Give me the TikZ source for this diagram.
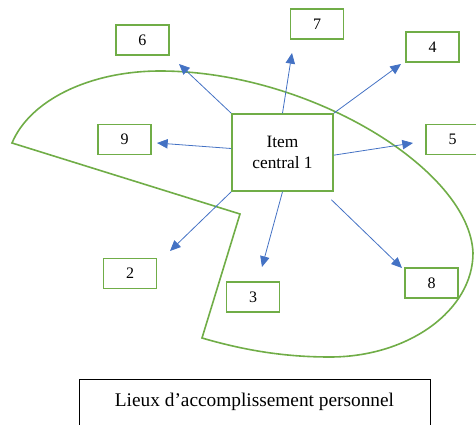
\documentclass[tikz,border=0pt]{standalone}
\usepackage{fontspec}
\setmainfont{Liberation Serif}
\usetikzlibrary{arrows.meta}
\definecolor{vert}{HTML}{70AD47}
\definecolor{bleu}{HTML}{4472C4}

\begin{document}
\begin{tikzpicture}[x=0.75pt, y=-0.75pt,
    item/.style={draw=vert, line width=1.2pt, fill=white, minimum width=39.75pt, minimum height=22.5pt, inner sep=0pt, font=\fontsize{12}{14}\selectfont},
    fleche/.style={draw=bleu, line width=0.6pt, -{Triangle[length=8pt,width=7pt]}},
    zone/.style={draw=vert, line width=1.2pt}]
    \useasboundingbox (0,0) rectangle (476,425);
    % zone des lieux (contour vert)
    \draw[zone] (12,143) -- (240,214) -- (202,338)
        .. controls (250,352) and (290,357) .. (330,357)
        .. controls (409,357) and (473,310) .. (473,253)
        .. controls (470,170) and (310,71) .. (160,71)
        .. controls (90,71) and (30,100) .. (12,143) -- cycle;
    % item central et items
    \node[item, minimum width=75.75pt, minimum height=57.75pt, align=center, font=\fontsize{13}{16}\selectfont] (c) at (282.5,152.5) {Item\\central 1};
    \node[item] (n6) at (142.5,40) {6};
    \node[item] (n7) at (317,24) {7};
    \node[item] (n4) at (432.5,47) {4};
    \node[item] (n9) at (124.5,139.5) {9};
    \node[item] (n5) at (452.5,139.5) {5};
    \node[item] (n2) at (130,273.5) {2};
    \node[item] (n3) at (253,297) {3};
    \node[item] (n8) at (431.5,283) {8};
    % pointes des fleches
    \coordinate (t6) at (179,64);
    \coordinate (t7) at (292,53);
    \coordinate (t4) at (401,64);
    \coordinate (t9) at (157,143);
    \coordinate (t5) at (413,143);
    \coordinate (t2) at (170,251);
    \coordinate (t3) at (262,267);
    \coordinate (t8) at (402,268);
    \draw[fleche] (c.north west) -- (t6);
    \draw[fleche] (c.north) -- (t7);
    \draw[fleche] (c.north east) -- (t4);
    \draw[fleche] ([yshift=3pt]c.west) -- (t9);
    \draw[fleche] ([yshift=-2pt]c.east) -- (t5);
    \draw[fleche] (c.south west) -- (t2);
    \draw[fleche] (c.south) -- (t3);
    \draw[fleche, shorten <=51pt] (c.center) -- (t8);
    % legende
    \node[draw=black, line width=0.5pt, inner sep=0pt, minimum width=263pt, text height=20pt, text depth=19.5pt, anchor=north, font=\fontsize{14.5}{17}\selectfont] (lieux) at (254.5,379) {Lieux d’accomplissement personnel};
\end{tikzpicture}
\end{document}
